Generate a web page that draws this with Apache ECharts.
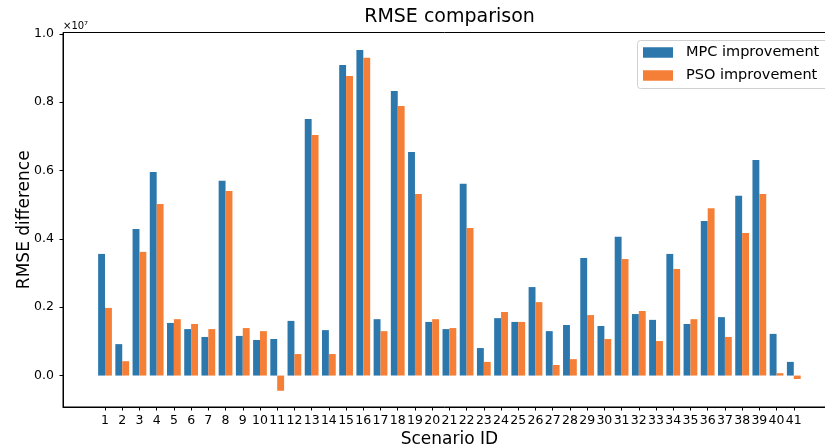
<!DOCTYPE html>
<html>
<head>
<meta charset="utf-8">
<script src="https://cdn.jsdelivr.net/npm/echarts@6/dist/echarts.min.js"></script>
<style>
html,body{margin:0;padding:0;background:#fff;}
#chart{width:825px;height:447px;}
</style>
</head>
<body>
<div id="chart"></div>
<script>
// Values are in units of 1e7 (axis shows ×10^7)
const scenarioIds = [1,2,3,4,5,6,7,8,9,10,11,12,13,14,15,16,17,18,19,20,21,22,23,24,25,26,27,28,29,30,31,32,33,34,35,36,37,38,39,40,41];
const mpcImprovement = [0.356,0.092,0.429,0.596,0.154,0.136,0.113,0.570,0.116,0.104,
  0.107,0.160,0.751,0.133,0.909,0.953,0.165,0.833,0.654,0.157,
  0.136,0.561,0.0805,0.168,0.157,0.259,0.130,0.148,0.344,0.145,
  0.406,0.180,0.163,0.356,0.151,0.452,0.171,0.526,0.631,0.122,0.040];
const psoImprovement = [0.198,0.042,0.362,0.502,0.165,0.151,0.136,0.540,0.139,0.130,
  -0.0445,0.063,0.704,0.063,0.877,0.930,0.130,0.789,0.531,0.165,
  0.139,0.432,0.040,0.186,0.157,0.215,0.031,0.048,0.177,0.107,
  0.341,0.189,0.101,0.312,0.165,0.490,0.113,0.417,0.531,0.007,-0.010];
const yTicks = [0.0,0.2,0.4,0.6,0.8,1.0];
const seriesNames = ['MPC improvement','PSO improvement'];

const FONT = 'DejaVu Sans';
const chart = echarts.init(document.getElementById('chart'), null, {renderer:'canvas'});
const option = {
  animation: false,
  backgroundColor: '#ffffff',
  title: {
    text: 'RMSE comparison',
    left: 449.5, top: 8, padding: 0, textAlign: 'center',
    textStyle: {fontFamily: FONT, fontSize: 19, fontWeight: 'normal', color: '#000'}
  },
  graphic: [
    {
      type: 'text', left: 63, top: 21,
      style: {text: '×10⁷', font: '10px "DejaVu Sans"', fill: '#000'}
    },
    {
      // legend frame (extends past the right edge like the original)
      type: 'rect', z: 3,
      shape: {x: 637.5, y: 40.5, width: 192, height: 48, r: 3},
      style: {fill: 'rgba(255,255,255,0.8)', stroke: '#d0d0d0', lineWidth: 1}
    }
  ],
  legend: {
    data: seriesNames,
    orient: 'vertical', left: 637, top: 40,
    padding: [4, 9, 6, 6], itemGap: 6,
    itemWidth: 30, itemHeight: 10.5, icon: 'rect',
    backgroundColor: 'transparent', borderWidth: 0, z: 5,
    textStyle: {fontFamily: FONT, fontSize: 14.5, color: '#000', padding: [0,0,0,8], lineHeight: 17}
  },
  grid: {
    left: 63, right: -10.8, top: 32.5, bottom: 40,
    show: true, borderColor: '#000', borderWidth: 1,
    containLabel: false, outerBoundsMode: 'none'
  },
  xAxis: {
    type: 'value', min: -1.44, max: 43.44,
    name: 'Scenario ID', nameLocation: 'middle', nameGap: 24, nameMoveOverlap: false,
    nameTextStyle: {fontFamily: FONT, fontSize: 17, color: '#000'},
    splitLine: {show: false},
    axisLine: {show: true, onZero: false, lineStyle: {color: '#000', width: 1}},
    axisTick: {show: true, length: 3.5, lineStyle: {color: '#000'}, customValues: scenarioIds},
    axisLabel: {fontFamily: FONT, fontSize: 12.5, color: '#000', margin: 7, customValues: scenarioIds,
      formatter: v => String(v)}
  },
  yAxis: {
    type: 'value', min: -0.092, max: 1.004,
    name: 'RMSE difference', nameLocation: 'middle', nameGap: 29.5, nameMoveOverlap: false,
    nameTextStyle: {fontFamily: FONT, fontSize: 17, color: '#000'},
    splitLine: {show: false},
    axisLine: {show: true, onZero: false, lineStyle: {color: '#000', width: 1}},
    axisTick: {show: true, length: 3.5, lineStyle: {color: '#000'}, customValues: yTicks},
    axisLabel: {fontFamily: FONT, fontSize: 12.5, color: '#000', margin: 9, customValues: yTicks,
      formatter: v => v.toFixed(1)}
  },
  series: [
    {
      name: seriesNames[0], type: 'bar', barWidth: 6.89, barGap: '0%',
      itemStyle: {color: '#2c77ab'},
      data: scenarioIds.map((id, i) => [id, mpcImprovement[i]])
    },
    {
      name: seriesNames[1], type: 'bar', barWidth: 6.89, barGap: '0%',
      itemStyle: {color: '#f57f36'},
      data: scenarioIds.map((id, i) => [id, psoImprovement[i]])
    }
  ]
};
chart.setOption(option);
</script>
</body>
</html>
